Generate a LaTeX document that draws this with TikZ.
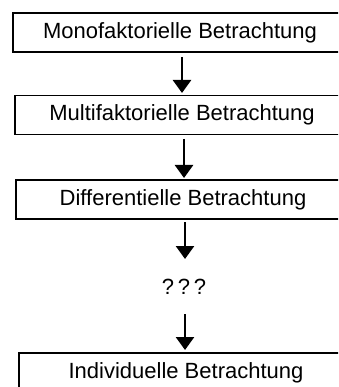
\documentclass[tikz,border=0pt]{standalone}
\usepackage{fontspec}
\setmainfont{Liberation Sans}
\usetikzlibrary{arrows.meta}
\begin{document}
\begin{tikzpicture}[x=1pt,y=-1pt,
  box/.style={draw, line width=1.9pt, minimum width=334pt, minimum height=39pt, inner sep=0pt, font=\fontsize{22}{26}\selectfont},
  arr/.style={line width=2.6pt, -{Triangle[width=18pt,length=13pt]}},
  txt/.style={font=\fontsize{22}{26}\selectfont}]
\useasboundingbox (0,0) rectangle (338,387);
\clip (0,0) rectangle (338,387);
\node[box] (b1) at (180,32.5) {Monofaktorielle Betrachtung};
\node[box] (b2) at (182,115) {Multifaktorielle Betrachtung};
\node[box] (b3) at (183,199.5) {Differentielle Betrachtung};
\node[txt] (q) at (184,287) {?\,?\,?};
\node[box] (b4) at (186,372.5) {Individuelle Betrachtung};
\draw[arr] (182,57) -- (182,93);
\draw[arr] (184,139) -- (184,178);
\draw[arr] (185,222) -- (185,259);
\draw[arr] (185,314) -- (185,350);
\end{tikzpicture}
\end{document}
